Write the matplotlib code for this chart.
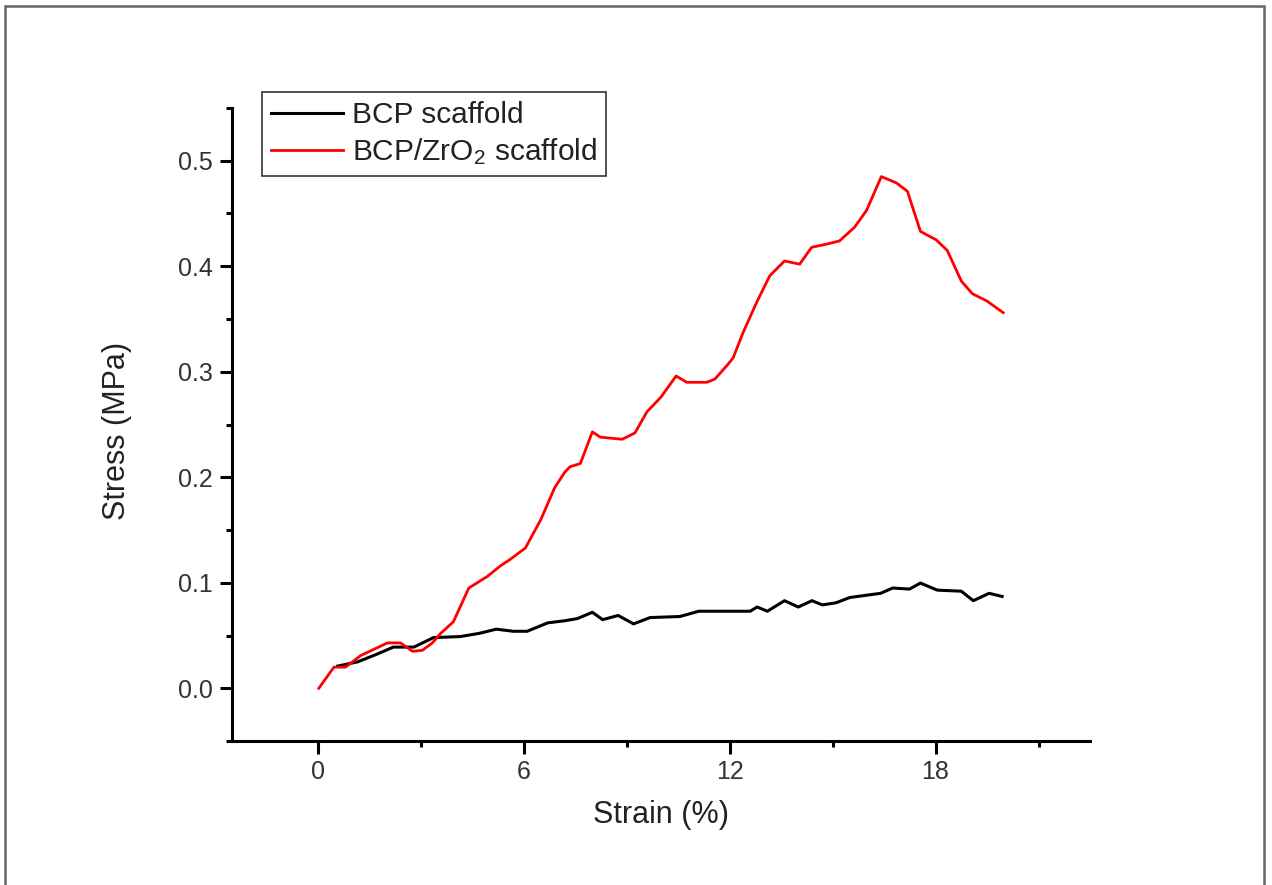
import matplotlib
matplotlib.use("Agg")
import matplotlib.pyplot as plt
from matplotlib.patches import Rectangle
from matplotlib.ticker import MultipleLocator, FormatStrFormatter

plt.rcParams["font.family"] = ["Liberation Sans", "DejaVu Sans"]
plt.rcParams["mathtext.fontset"] = "custom"
plt.rcParams["mathtext.rm"] = "Liberation Sans"
plt.rcParams["mathtext.it"] = "Liberation Sans:italic"

# BCP scaffold (strain %, stress MPa)
bcp_strain = [0.58, 1.16, 1.7, 2.2, 2.8, 3.37, 4.15, 4.7, 5.2, 5.7, 6.1, 6.7,
              7.2, 7.56, 8.0, 8.3, 8.75, 9.2, 9.68, 10.55, 11.1, 12.0, 12.6,
              12.8, 13.1, 13.6, 14.0, 14.4, 14.7, 15.1, 15.5, 16.4, 16.75,
              17.24, 17.56, 18.05, 18.75, 19.1, 19.56, 19.94]
bcp_stress = [0.021, 0.025, 0.032, 0.039, 0.039, 0.048, 0.049, 0.052, 0.056,
              0.054, 0.054, 0.062, 0.064, 0.066, 0.072, 0.065, 0.069, 0.061,
              0.067, 0.068, 0.073, 0.073, 0.073, 0.077, 0.073, 0.083, 0.077,
              0.083, 0.079, 0.081, 0.086, 0.090, 0.095, 0.094, 0.0997, 0.093,
              0.092, 0.083, 0.090, 0.087]

# BCP/ZrO2 scaffold
zr_strain = [0.03, 0.47, 0.81, 1.25, 2.03, 2.41, 2.76, 3.05, 3.34, 3.58, 3.95,
             4.4, 4.94, 5.32, 5.6, 6.05, 6.5, 6.9, 7.2, 7.35, 7.65, 8.0, 8.23,
             8.87, 9.24, 9.59, 10.0, 10.44, 10.75, 11.33, 11.57, 11.95, 12.1,
             12.39, 12.79, 13.17, 13.6, 14.04, 14.39, 14.83, 15.2, 15.64,
             15.99, 16.42, 16.86, 17.18, 17.56, 18.02, 18.34, 18.75, 19.07,
             19.5, 19.97]
zr_stress = [0.0, 0.020, 0.020, 0.031, 0.043, 0.043, 0.035, 0.036, 0.043,
             0.052, 0.063, 0.095, 0.106, 0.116, 0.122, 0.133, 0.16, 0.19,
             0.205, 0.21, 0.213, 0.243, 0.238, 0.236, 0.242, 0.262, 0.276,
             0.296, 0.290, 0.290, 0.293, 0.307, 0.313, 0.337, 0.366, 0.391,
             0.405, 0.402, 0.418, 0.421, 0.424, 0.437, 0.453, 0.485, 0.479,
             0.471, 0.433, 0.425, 0.415, 0.386, 0.374, 0.367, 0.356]

x_ticks = [0, 6, 12, 18]

fig = plt.figure(figsize=(12.72, 8.85), dpi=100)
ax = fig.add_axes([232 / 1272, 1 - 741 / 885, 858 / 1272, 633 / 885])

ax.plot(bcp_strain, bcp_stress, color="black", lw=2.2, label="BCP scaffold")
ax.plot(zr_strain, zr_stress, color="#ff0000", lw=2.0,
        label=r"BCP/ZrO$_\mathrm{2}$ scaffold")

ax.set_xlim(-2.5, 22.5)
ax.set_ylim(-0.05, 0.55)
ax.set_xticks(x_ticks)
ax.xaxis.set_minor_locator(MultipleLocator(3))
ax.yaxis.set_major_locator(MultipleLocator(0.1))
ax.yaxis.set_minor_locator(MultipleLocator(0.05))
ax.yaxis.set_major_formatter(FormatStrFormatter("%.1f"))

for side in ["top", "right"]:
    ax.spines[side].set_visible(False)
for side in ["left", "bottom"]:
    ax.spines[side].set_linewidth(2.2)

ax.tick_params(which="major", direction="out", length=9, width=2.2,
               labelsize=18, labelcolor="#333333", pad=5)
ax.tick_params(which="minor", direction="out", length=4.5, width=2.2)

ax.set_xlabel("Strain (%)", fontsize=22, color="#222222")
ax.set_ylabel("Stress (MPa)", fontsize=22, color="#222222")
ax.xaxis.set_label_coords(0.5, -0.093)
ax.yaxis.set_label_coords(-0.117, 0.49)

leg = ax.legend(loc="upper left", bbox_to_anchor=(0.035, 1.025),
                borderaxespad=0, fontsize=21.5, handlelength=2.4,
                handletextpad=0.3, fancybox=False, framealpha=1,
                edgecolor="#333333", borderpad=0.3, labelspacing=0.25)
leg.get_frame().set_linewidth(1.2)
for t in leg.get_texts():
    t.set_color("#222222")

# gray frame around the figure
fig.patches.append(Rectangle((5 / 1272, -0.05), 1259 / 1272, 1.05 - 6 / 885,
                             transform=fig.transFigure, fill=False,
                             edgecolor="#666666", lw=1.8))

fig.savefig("out.png", dpi=100)
